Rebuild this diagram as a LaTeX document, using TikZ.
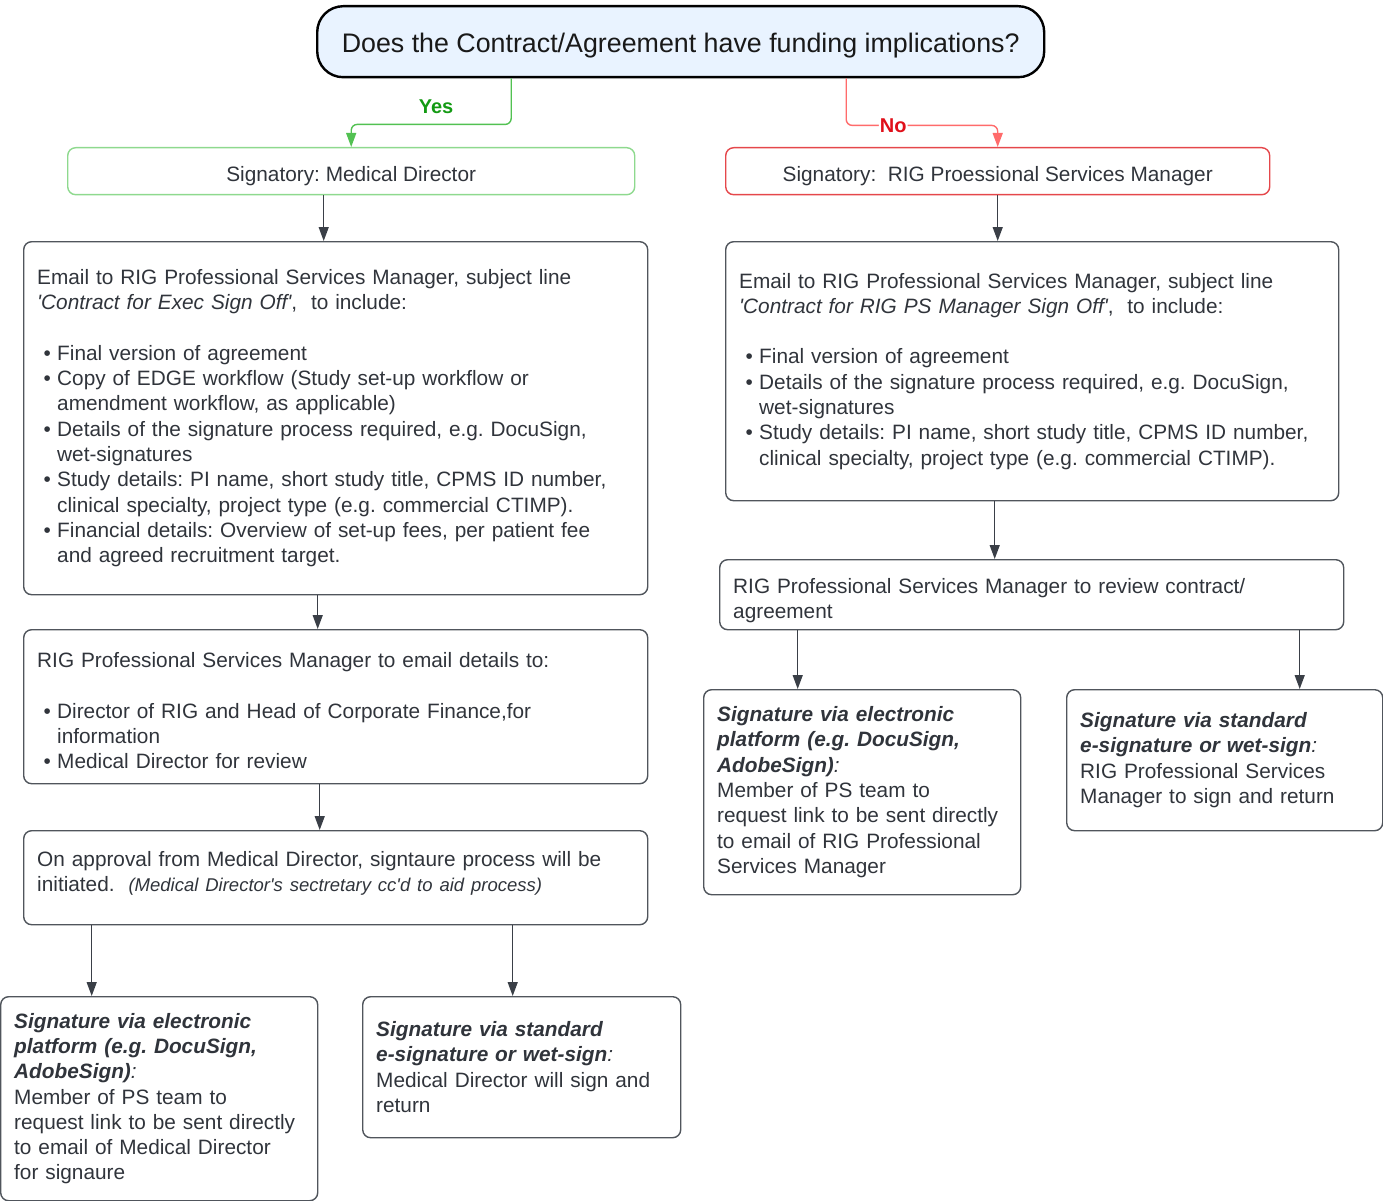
\documentclass[tikz,border=0pt]{standalone}
\usepackage{fontspec}
\setmainfont{Liberation Sans}
\usetikzlibrary{arrows.meta}
\definecolor{txt}{HTML}{30343B}
\definecolor{boxgray}{HTML}{50555C}
\definecolor{linegray}{HTML}{3A3F47}
\definecolor{qfill}{HTML}{E9F3FF}
\definecolor{yesbox}{HTML}{8ED98E}
\definecolor{yesline}{HTML}{52C152}
\definecolor{yestext}{HTML}{139A13}
\definecolor{nobox}{HTML}{E5474B}
\definecolor{noline}{HTML}{FF6B6B}
\definecolor{notext}{HTML}{E0101A}
\newcommand{\bodyfont}{\fontsize{20.8}{25.3}\selectfont\frenchspacing}
\newcommand{\smallit}{\fontsize{18.5}{25.3}\selectfont\itshape}
\newcommand{\bul}{\makebox[20pt][c]{\textbullet}}
\newcommand{\ind}{\hspace*{20pt}}
\newcommand{\bi}[1]{\textbf{\textit{#1}}}
\newcommand{\q}{\textquotesingle}
\tikzset{
  box/.style={draw=boxgray, line width=1.4pt, rounded corners=8pt, anchor=north west,
    inner xsep=13.5pt, inner ysep=0pt, align=left, text=txt, font=\bodyfont},
  sigbox/.style={box, align=center, inner xsep=0pt, text height=20pt, text depth=0pt},
  flow/.style={draw=linegray, line width=1.4pt, -{Triangle[length=14pt,width=10pt]}},
}
\begin{document}
\begin{tikzpicture}[x=1pt, y=-1pt]
\useasboundingbox (0,0) rectangle (1383,1201);

\node[draw=black, fill=qfill, line width=2.4pt, rounded corners=26pt, anchor=north west,
  minimum width=727pt, minimum height=71pt, text height=21pt, text depth=0pt, text=black!90,
  font=\fontsize{26.8}{30}\selectfont]
  (q) at (316,5) {Does the Contract/Agreement have funding implications?};

\node[sigbox, draw=yesbox, minimum width=567pt, minimum height=47pt] (sigL) at (67,147)
  {Signatory: Medical Director};
\node[sigbox, draw=nobox, minimum width=544pt, minimum height=47pt] (sigR) at (725,147)
  {Signatory:\ \ RIG Proessional Services Manager};

\node[box, text width=597pt, minimum height=353pt] (emailL) at (23,241) {
Email to RIG Professional Services Manager, subject line\\
\textit{\q Contract for Exec Sign Off\q},\ \ to include:\\[25.3pt]
\bul Final version of agreement\\
\bul Copy of EDGE workflow (Study set-up workflow or\\
\ind amendment workflow, as applicable)\\
\bul Details of the signature process required, e.g. DocuSign,\\
\ind wet-signatures\\
\bul Study details: PI name, short study title, CPMS ID number,\\
\ind clinical specialty, project type (e.g. commercial CTIMP).\\
\bul Financial details: Overview of set-up fees, per patient fee\\
\ind and agreed recruitment target.};

\node[box, text width=597pt, minimum height=154pt] (notifyL) at (23,629) {
\rule{0pt}{23pt}RIG Professional Services Manager to email details to:\\[25.3pt]
\bul Director of RIG and Head of Corporate Finance,for\\
\ind information\\
\bul Medical Director for review};

\node[box, text width=597pt, minimum height=94pt] (approveL) at (23,830) {
On approval from Medical Director, signtaure process will be\\
initiated.\ \ {\smallit (Medical Director\q s sectretary cc\q d to aid process)}\\[-13pt]\mbox{}};

\node[box, text width=290pt, minimum height=204pt] (elecL) at (0,996) {
\bi{Signature via electronic}\\
\bi{platform (e.g. DocuSign,}\\
\bi{AdobeSign)}\textit{:}\\
Member of PS team to\\
request link to be sent directly\\
to email of Medical Director\\
for signaure};

\node[box, text width=291pt, minimum height=141pt] (stdL) at (362,996) {
\bi{Signature via standard}\\
\bi{e-signature or wet-sign}\textit{:}\\
Medical Director will sign and\\
return};

\node[box, text width=586pt, minimum height=259pt] (emailR) at (725,241) {
Email to RIG Professional Services Manager, subject line\\
\textit{\q Contract for RIG PS Manager Sign Off\q},\ \ to include:\\[25.3pt]
\bul Final version of agreement\\
\bul Details of the signature process required, e.g. DocuSign,\\
\ind wet-signatures\\
\bul Study details: PI name, short study title, CPMS ID number,\\
\ind clinical specialty, project type (e.g. commercial CTIMP).};

\node[box, text width=597pt, minimum height=70pt] (reviewR) at (719,559) {
\rule{0pt}{27pt}RIG Professional Services Manager to review contract/\\
agreement};

\node[box, text width=290pt, minimum height=205pt] (elecR) at (703,689) {
\bi{Signature via electronic}\\
\bi{platform (e.g. DocuSign,}\\
\bi{AdobeSign)}\textit{:}\\
Member of PS team to\\
request link to be sent directly\\
to email of RIG Professional\\
Services Manager};

\node[box, text width=289pt, minimum height=141pt] (stdR) at (1066,689) {
\bi{Signature via standard}\\
\bi{e-signature or wet-sign}\textit{:}\\
RIG Professional Services\\
Manager to sign and return};

\draw[draw=yesline, line width=1.4pt, rounded corners=6pt, -{Triangle[length=14pt,width=10pt]}]
  ([xshift=-169.5pt]q.south) -- ++(0,46) -| node[pos=0.235, above=7pt, text=yestext,
  font=\fontsize{20}{24}\selectfont\bfseries] {Yes} (sigL.north);
\draw[draw=noline, line width=1.4pt, rounded corners=6pt, -{Triangle[length=14pt,width=10pt]}]
  ([xshift=165.5pt]q.south) -- ++(0,47) -| node[pos=0.155, fill=white, inner sep=1pt, text=notext,
  font=\fontsize{20}{24}\selectfont\bfseries] {No} (sigR.north);

\draw[flow] ([xshift=-27.5pt]sigL.south) -- ([xshift=-12pt]emailL.north);
\draw[flow] ([xshift=-18pt]emailL.south) -- ([xshift=-18pt]notifyL.north);
\draw[flow] ([xshift=-16pt]notifyL.south) -- ([xshift=-16pt]approveL.north);
\draw[flow] ([xshift=-244pt]approveL.south) -- ([xshift=-67.5pt]elecL.north);
\draw[flow] ([xshift=177pt]approveL.south) -- ([xshift=-9pt]stdL.north);
\draw[flow] (sigR.south) -- ([xshift=-34.5pt]emailR.north);
\draw[flow] ([xshift=-37.5pt]emailR.south) -- ([xshift=-37pt]reviewR.north);
\draw[flow] ([xshift=-234pt]reviewR.south) -- ([xshift=-64.5pt]elecR.north);
\draw[flow] ([xshift=268pt]reviewR.south) -- ([xshift=75pt]stdR.north);
\end{tikzpicture}
\end{document}
